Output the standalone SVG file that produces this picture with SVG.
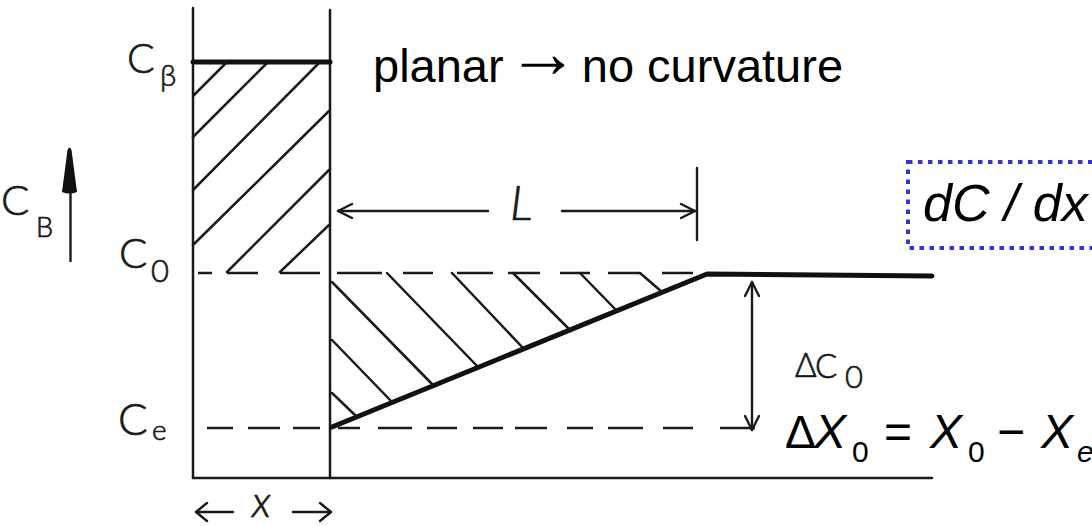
<svg xmlns="http://www.w3.org/2000/svg" width="1092" height="526" viewBox="0 0 1092 526">
  <defs>
    <style>
      .ln{stroke:#1a1a1a;stroke-width:2.5;fill:none;stroke-linecap:round}
      .thick{stroke:#111;stroke-width:5;fill:none;stroke-linecap:round;stroke-linejoin:round}
      .hatch{stroke:#1a1a1a;stroke-width:2.5;fill:none;stroke-linecap:round}
      .dash{stroke:#1a1a1a;stroke-width:2.6;fill:none}
      .hand{font-family:Lato,"DejaVu Sans",sans-serif;font-weight:300;fill:#1a1a1a;stroke:#1a1a1a;stroke-width:0.7}
      .print{font-family:"Liberation Sans",Arial,sans-serif;fill:#000}
      .arr{stroke:#1a1a1a;stroke-width:2.4;fill:none;stroke-linecap:round;stroke-linejoin:round}
    </style>
  </defs>
  <rect width="1092" height="526" fill="#fff"/>

  <g id="frame">
    <line class="ln" x1="193" y1="8" x2="193" y2="478"/>
    <line class="ln" x1="330" y1="10" x2="330" y2="478"/>
    <line class="ln" x1="193" y1="478" x2="932" y2="478"/>
  </g>

  <g id="levels">
    <line class="thick" x1="193" y1="62" x2="330" y2="62"/>
    <line class="dash" x1="198" y1="273" x2="707" y2="273" stroke-dasharray="14 15 31 22 40 17 45 21 30 24 36 15 32 20 30 18 32 22 31"/>
    <line class="dash" x1="207" y1="428" x2="755" y2="428" stroke-dasharray="26 15 32 13 27 18 22 18 34 15 30 16 30 12 32 20 26 15 35 20 30 27 35"/>
    <polyline class="thick" points="332,427 707,274 932,276"/>
  </g>

  <g id="hatch-left">
    <line class="hatch" x1="193" y1="96" x2="226" y2="63"/>
    <line class="hatch" x1="193" y1="137" x2="267" y2="63"/>
    <line class="hatch" x1="193" y1="190" x2="318" y2="64"/>
    <line class="hatch" x1="193" y1="245" x2="329" y2="111"/>
    <line class="hatch" x1="227" y1="272" x2="329" y2="170"/>
    <line class="hatch" x1="280" y1="272" x2="329" y2="225"/>
  </g>

  <g id="hatch-right">
    <line class="hatch" x1="332" y1="282" x2="433" y2="385"/>
    <line class="hatch" x1="332" y1="340" x2="392" y2="402"/>
    <line class="hatch" x1="332" y1="393" x2="356" y2="416"/>
    <line class="hatch" x1="387" y1="273" x2="478" y2="367"/>
    <line class="hatch" x1="452" y1="273" x2="524" y2="349"/>
    <line class="hatch" x1="513" y1="273" x2="571" y2="331"/>
    <line class="hatch" x1="580" y1="273" x2="617" y2="311"/>
    <line class="hatch" x1="640" y1="273" x2="662" y2="292"/>
  </g>

  <g id="connectors">
    <line class="arr" x1="338" y1="211" x2="488" y2="211"/>
    <polyline class="arr" points="352,204 338,211 352,218"/>
    <line class="arr" x1="562" y1="211" x2="695" y2="211"/>
    <polyline class="arr" points="681,204 695,211 681,218"/>
    <line class="arr" x1="697" y1="168" x2="697" y2="240"/>
    <line class="arr" x1="752" y1="282" x2="752" y2="430"/>
    <polyline class="arr" points="745,296 752,282 759,296"/>
    <polyline class="arr" points="745,416 752,430 759,416"/>
    <line class="arr" x1="70.5" y1="190" x2="70.5" y2="261"/>
    <path d="M67.5,150 Q69.5,145 71.5,150 L77,192 Q69.5,195 62,192 Z" fill="#111"/>
    <line class="arr" x1="196" y1="512" x2="233" y2="512" stroke-width="3"/>
    <polyline class="arr" points="207,503 196,512 207,521" stroke-width="3"/>
    <line class="arr" x1="293" y1="512" x2="331" y2="512" stroke-width="3"/>
    <polyline class="arr" points="320,503 331,512 320,521" stroke-width="3"/>
  </g>

  <g id="label-Cbeta">
    <text class="hand" x="127" y="73" font-size="41">C</text>
    <text class="hand" x="160" y="86" font-size="30">β</text>
  </g>
  <g id="label-CB">
    <text class="hand" x="1" y="215" font-size="42">C</text>
    <text class="hand" x="36" y="237" font-size="27">B</text>
  </g>
  <g id="label-C0">
    <text class="hand" x="119" y="268" font-size="42">C</text>
    <text class="hand" x="151" y="282" font-size="31">0</text>
  </g>
  <g id="label-Ce">
    <text class="hand" x="118" y="435" font-size="44">C</text>
    <text class="hand" x="152" y="440" font-size="28">e</text>
  </g>
  <g id="label-L">
    <text class="hand" x="510" y="220" font-size="48" font-style="italic">L</text>
  </g>
  <g id="label-x">
    <text class="hand" x="252" y="517" font-size="43" font-style="italic">x</text>
  </g>
  <g id="label-dC0">
    <text class="hand" x="795" y="377" font-size="33">Δ</text>
    <text class="hand" x="815" y="378" font-size="33">C</text>
    <text class="hand" x="845" y="388" font-size="31">0</text>
  </g>

  <g id="title">
    <text class="print" x="373" y="82" font-size="47">planar <tspan font-family="'Liberation Serif',serif" font-size="72" dx="-10" dy="-5">→</tspan><tspan dx="-10" dy="5"> no curvature</tspan></text>
  </g>

  <g id="gradient-box">
    <rect x="908" y="162" width="200" height="86" fill="none" stroke="#3535cc" stroke-width="4" stroke-dasharray="4.5 5.5"/>
    <text class="print" x="923" y="221" font-size="52" font-style="italic">dC / dx</text>
  </g>

  <g id="equation">
    <text class="print" x="785" y="448" font-size="46">Δ</text>
    <text class="print" x="814" y="448" font-size="48" font-style="italic">X</text>
    <text class="print" x="852" y="462" font-size="30">0</text>
    <text class="print" x="884" y="448" font-size="48">=</text>
    <text class="print" x="930" y="448" font-size="48" font-style="italic">X</text>
    <text class="print" x="968" y="462" font-size="30">0</text>
    <text class="print" x="997" y="448" font-size="48">−</text>
    <text class="print" x="1041" y="448" font-size="48" font-style="italic">X</text>
    <text class="print" x="1077" y="462" font-size="30" font-style="italic">e</text>
  </g>
</svg>
